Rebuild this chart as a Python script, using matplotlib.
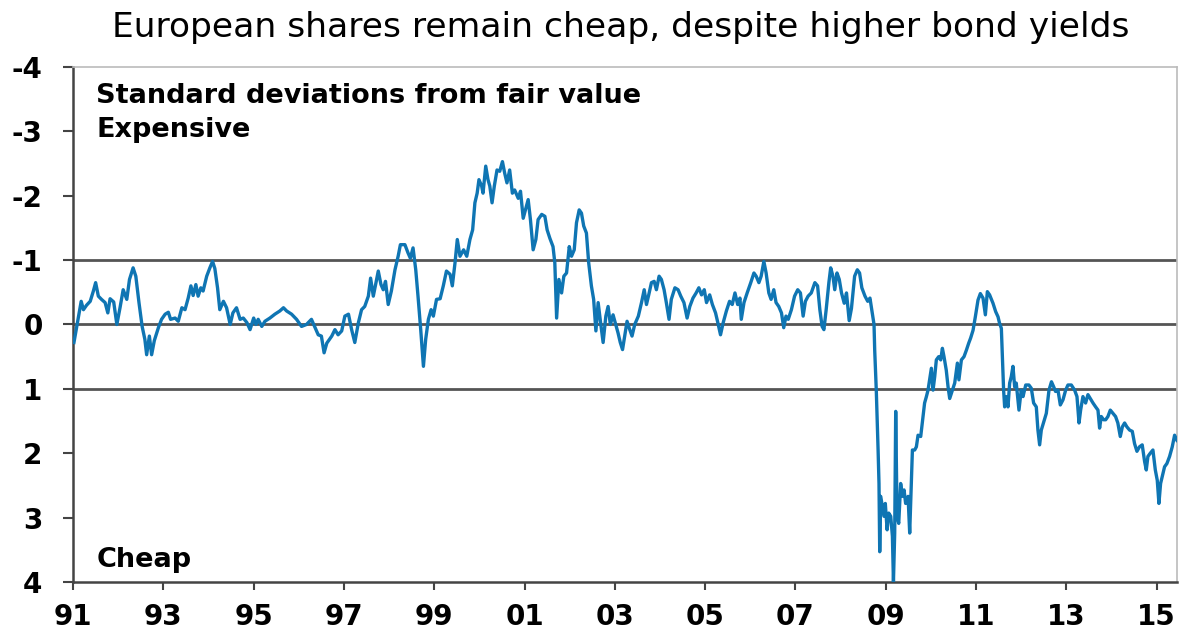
import matplotlib
matplotlib.use("Agg")
import matplotlib.pyplot as plt

plt.rcParams['font.family'] = ['DejaVu Sans']

# decimal year, standard deviations from fair value (positive = cheap)
years = [
    1991.02, 1991.07, 1991.18, 1991.23, 1991.30, 1991.38, 1991.45, 1991.50, 1991.56, 1991.63,
    1991.71, 1991.77, 1991.82, 1991.90, 1991.97, 1992.04, 1992.11, 1992.19, 1992.25, 1992.33,
    1992.39, 1992.46, 1992.53, 1992.59, 1992.63, 1992.69, 1992.74, 1992.80, 1992.89, 1992.96,
    1993.04, 1993.11, 1993.16, 1993.26, 1993.33, 1993.41, 1993.48, 1993.55, 1993.61, 1993.66,
    1993.72, 1993.77, 1993.83, 1993.88, 1993.96, 1994.03, 1994.09, 1994.14, 1994.20, 1994.25,
    1994.33, 1994.40, 1994.48, 1994.54, 1994.62, 1994.70, 1994.77, 1994.85, 1994.92, 1995.00,
    1995.05, 1995.10, 1995.18, 1995.25, 1995.36, 1995.47, 1995.58, 1995.66, 1995.73, 1995.84,
    1995.95, 1996.06, 1996.17, 1996.28, 1996.36, 1996.43, 1996.50, 1996.56, 1996.62, 1996.73,
    1996.80, 1996.87, 1996.95, 1997.02, 1997.10, 1997.17, 1997.24, 1997.32, 1997.39, 1997.46,
    1997.54, 1997.59, 1997.65, 1997.70, 1997.76, 1997.82, 1997.87, 1997.92, 1997.98, 1998.05,
    1998.13, 1998.20, 1998.25, 1998.35, 1998.42, 1998.47, 1998.53, 1998.59, 1998.64, 1998.70,
    1998.76, 1998.81, 1998.87, 1998.93, 1998.98, 1999.05, 1999.13, 1999.20, 1999.27, 1999.35,
    1999.40, 1999.46, 1999.51, 1999.57, 1999.65, 1999.72, 1999.79, 1999.85, 1999.90, 1999.95,
    1999.99, 2000.05, 2000.08, 2000.14, 2000.19, 2000.23, 2000.28, 2000.33, 2000.39, 2000.45,
    2000.51, 2000.56, 2000.61, 2000.67, 2000.73, 2000.78, 2000.86, 2000.91, 2000.97, 2001.03,
    2001.08, 2001.13, 2001.19, 2001.25, 2001.30, 2001.38, 2001.45, 2001.50, 2001.56, 2001.63,
    2001.67, 2001.71, 2001.76, 2001.82, 2001.87, 2001.93, 2001.99, 2002.04, 2002.10, 2002.15,
    2002.21, 2002.26, 2002.31, 2002.37, 2002.42, 2002.48, 2002.53, 2002.58, 2002.63, 2002.68,
    2002.74, 2002.80, 2002.85, 2002.90, 2002.96, 2003.02, 2003.07, 2003.12, 2003.17, 2003.27,
    2003.33, 2003.38, 2003.44, 2003.52, 2003.59, 2003.65, 2003.70, 2003.75, 2003.81, 2003.87,
    2003.92, 2003.98, 2004.03, 2004.09, 2004.14, 2004.20, 2004.25, 2004.33, 2004.40, 2004.46,
    2004.53, 2004.60, 2004.66, 2004.73, 2004.80, 2004.86, 2004.92, 2004.98, 2005.03, 2005.10,
    2005.16, 2005.23, 2005.28, 2005.34, 2005.40, 2005.47, 2005.54, 2005.60, 2005.66, 2005.72,
    2005.77, 2005.80, 2005.86, 2005.93, 2006.01, 2006.08, 2006.13, 2006.19, 2006.24, 2006.30,
    2006.35, 2006.41, 2006.46, 2006.52, 2006.57, 2006.63, 2006.69, 2006.74, 2006.79, 2006.84,
    2006.91, 2006.98, 2007.05, 2007.11, 2007.17, 2007.22, 2007.28, 2007.35, 2007.43, 2007.49,
    2007.54, 2007.59, 2007.63, 2007.68, 2007.74, 2007.78, 2007.83, 2007.87, 2007.92, 2007.97,
    2008.02, 2008.08, 2008.13, 2008.19, 2008.24, 2008.31, 2008.37, 2008.42, 2008.47, 2008.54,
    2008.60, 2008.65, 2008.70, 2008.74, 2008.755, 2008.79, 2008.815, 2008.83, 2008.85, 2008.866,
    2008.888, 2008.925, 2008.96, 2008.99, 2009.03, 2009.065, 2009.11, 2009.147, 2009.17, 2009.198,
    2009.22, 2009.25, 2009.287, 2009.33, 2009.368, 2009.405, 2009.44, 2009.494, 2009.53, 2009.567,
    2009.59, 2009.64, 2009.678, 2009.715, 2009.774, 2009.826, 2009.86, 2009.90, 2009.936, 2009.97,
    2010.01, 2010.047, 2010.084, 2010.12, 2010.172, 2010.217, 2010.254, 2010.29, 2010.34, 2010.38,
    2010.416, 2010.453, 2010.527, 2010.586, 2010.62, 2010.675, 2010.733, 2010.785, 2010.837, 2010.88,
    2010.933, 2010.984, 2011.043, 2011.095, 2011.154, 2011.206, 2011.25, 2011.30, 2011.375, 2011.434,
    2011.486, 2011.52, 2011.56, 2011.58, 2011.61, 2011.633, 2011.67, 2011.707, 2011.744, 2011.78,
    2011.817, 2011.855, 2011.89, 2011.95, 2012.00, 2012.04, 2012.10, 2012.17, 2012.223, 2012.275,
    2012.334, 2012.37, 2012.408, 2012.445, 2012.50, 2012.556, 2012.615, 2012.67, 2012.72, 2012.76,
    2012.814, 2012.866, 2012.925, 2012.984, 2013.035, 2013.11, 2013.183, 2013.235, 2013.28, 2013.316,
    2013.367, 2013.426, 2013.478, 2013.53, 2013.59, 2013.648, 2013.70, 2013.736, 2013.773, 2013.825,
    2013.87, 2013.92, 2013.973, 2014.03, 2014.09, 2014.14, 2014.194, 2014.24, 2014.29, 2014.34,
    2014.40, 2014.46, 2014.51, 2014.563, 2014.62, 2014.68, 2014.733, 2014.77, 2014.806, 2014.858,
    2014.917, 2014.97, 2015.013, 2015.05, 2015.087, 2015.14, 2015.175, 2015.227, 2015.286, 2015.345,
    2015.397, 2015.45,
]

std_devs = [
    0.28, 0.08, -0.36, -0.23, -0.30, -0.36, -0.52, -0.65, -0.44, -0.39,
    -0.34, -0.18, -0.40, -0.35, 0.00, -0.26, -0.54, -0.39, -0.70, -0.88,
    -0.75, -0.34, 0.03, 0.23, 0.47, 0.18, 0.47, 0.25, 0.05, -0.08,
    -0.16, -0.19, -0.08, -0.10, -0.05, -0.26, -0.23, -0.41, -0.60, -0.45,
    -0.62, -0.44, -0.57, -0.52, -0.75, -0.88, -0.98, -0.87, -0.57, -0.23,
    -0.36, -0.26, 0.00, -0.18, -0.26, -0.08, -0.10, -0.03, 0.08, -0.10,
    0.00, -0.08, 0.03, -0.05, -0.10, -0.16, -0.21, -0.26, -0.21, -0.16,
    -0.08, 0.03, 0.00, -0.08, 0.05, 0.16, 0.18, 0.44, 0.29, 0.18,
    0.08, 0.16, 0.10, -0.13, -0.16, 0.08, 0.28, -0.03, -0.23, -0.28,
    -0.44, -0.72, -0.44, -0.62, -0.83, -0.62, -0.54, -0.67, -0.31, -0.52,
    -0.85, -1.06, -1.24, -1.24, -1.11, -1.03, -1.19, -0.85, -0.44, 0.08,
    0.65, 0.23, -0.08, -0.23, -0.13, -0.39, -0.40, -0.60, -0.83, -0.78,
    -0.60, -0.96, -1.32, -1.06, -1.16, -1.06, -1.32, -1.47, -1.89, -2.04,
    -2.25, -2.15, -2.04, -2.46, -2.25, -2.15, -1.89, -2.15, -2.40, -2.38,
    -2.53, -2.35, -2.20, -2.40, -2.04, -2.09, -1.96, -2.07, -1.65, -1.81,
    -1.94, -1.63, -1.16, -1.32, -1.63, -1.71, -1.68, -1.47, -1.34, -1.21,
    -0.96, -0.10, -0.70, -0.49, -0.75, -0.80, -1.21, -1.06, -1.16, -1.58,
    -1.78, -1.73, -1.53, -1.42, -0.96, -0.60, -0.39, 0.10, -0.34, -0.05,
    0.28, -0.13, -0.28, 0.00, -0.15, 0.00, 0.13, 0.28, 0.39, -0.05,
    0.08, 0.18, 0.00, -0.13, -0.34, -0.54, -0.31, -0.46, -0.65, -0.67,
    -0.54, -0.75, -0.70, -0.54, -0.34, -0.08, -0.39, -0.57, -0.54, -0.44,
    -0.34, -0.10, -0.28, -0.41, -0.49, -0.57, -0.46, -0.54, -0.34, -0.46,
    -0.31, -0.18, -0.03, 0.16, -0.03, -0.21, -0.36, -0.31, -0.49, -0.31,
    -0.41, -0.08, -0.34, -0.49, -0.65, -0.80, -0.75, -0.65, -0.75, -0.98,
    -0.80, -0.49, -0.39, -0.54, -0.34, -0.28, -0.18, 0.05, -0.13, -0.08,
    -0.23, -0.44, -0.54, -0.49, -0.13, -0.36, -0.44, -0.49, -0.65, -0.60,
    -0.23, 0.03, 0.08, -0.23, -0.65, -0.88, -0.75, -0.54, -0.80, -0.70,
    -0.49, -0.33, -0.49, -0.06, -0.25, -0.75, -0.85, -0.80, -0.57, -0.44,
    -0.36, -0.41, -0.18, 0.00, 0.40, 1.02, 1.59, 1.95, 2.47, 3.53,
    2.67, 2.83, 2.98, 2.78, 3.19, 2.93, 2.98, 3.29, 4.00, 3.24,
    1.35, 2.98, 3.09, 2.47, 2.67, 2.57, 2.78, 2.67, 3.24, 2.47,
    1.95, 1.95, 1.90, 1.72, 1.74, 1.43, 1.22, 1.12, 1.02, 0.86,
    0.68, 1.02, 0.81, 0.55, 0.50, 0.55, 0.37, 0.50, 0.71, 0.97,
    1.15, 1.07, 0.91, 0.60, 0.86, 0.55, 0.50, 0.40, 0.29, 0.21,
    0.09, -0.12, -0.38, -0.48, -0.41, -0.15, -0.51, -0.46, -0.33, -0.20,
    -0.12, -0.02, 0.06, 0.45, 1.02, 1.28, 1.12, 1.28, 0.91, 0.81,
    0.65, 0.97, 0.91, 1.33, 1.02, 1.12, 0.94, 0.94, 0.99, 1.22,
    1.28, 1.64, 1.87, 1.64, 1.51, 1.38, 1.02, 0.89, 0.97, 1.04,
    1.02, 1.25, 1.17, 1.02, 0.94, 0.94, 1.02, 1.12, 1.53, 1.33,
    1.12, 1.22, 1.09, 1.15, 1.22, 1.28, 1.33, 1.61, 1.43, 1.48,
    1.48, 1.43, 1.33, 1.38, 1.43, 1.53, 1.74, 1.59, 1.53, 1.59,
    1.64, 1.66, 1.85, 1.97, 1.90, 1.87, 2.13, 2.26, 2.05, 2.00,
    1.95, 2.26, 2.42, 2.78, 2.47, 2.31, 2.21, 2.16, 2.05, 1.90,
    1.72, 1.80,
]

x_tick_years = [1991, 1993, 1995, 1997, 1999, 2001, 2003, 2005, 2007, 2009, 2011, 2013, 2015]
x_tick_labels = ["91", "93", "95", "97", "99", "01", "03", "05", "07", "09", "11", "13", "15"]
y_ticks = [-4, -3, -2, -1, 0, 1, 2, 3, 4]
ref_lines = [-1, 0, 1]

title = "European shares remain cheap, despite higher bond yields"
label_top = "Standard deviations from fair value"
label_expensive = "Expensive"
label_cheap = "Cheap"

fig = plt.figure(figsize=(11.86, 6.35), dpi=100)
ax = fig.add_axes([0.0616, 0.0835, 0.9308, 0.811])

for v in ref_lines:
    ax.axhline(v, color="#555555", lw=2.0, zorder=1)

ax.plot(years, std_devs, color="#0f75b3", lw=2.4, zorder=3)

ax.set_xlim(1991, 2015.45)
ax.set_ylim(4, -4)
ax.set_yticks(y_ticks)
ax.set_yticklabels([str(v) for v in y_ticks])
ax.set_xticks(x_tick_years)
ax.set_xticklabels(x_tick_labels)

ax.tick_params(axis="y", direction="out", length=7, width=1.5, color="#444444",
               labelsize=20, pad=15)
ax.tick_params(axis="x", direction="out", length=6, width=1.5, color="#444444",
               labelsize=20, pad=9)
for lab in ax.get_xticklabels() + ax.get_yticklabels():
    lab.set_fontweight("bold")

for side in ["left", "bottom"]:
    ax.spines[side].set_color("#444444")
    ax.spines[side].set_linewidth(1.8)
for side in ["top", "right"]:
    ax.spines[side].set_color("#bbbbbb")
    ax.spines[side].set_linewidth(1.2)

ax.text(0.021, 0.930, label_top, transform=ax.transAxes, fontsize=19.5,
        fontweight="bold", va="baseline", ha="left")
ax.text(0.021, 0.864, label_expensive, transform=ax.transAxes, fontsize=19.5,
        fontweight="bold", va="baseline", ha="left")
ax.text(0.021, 0.029, label_cheap, transform=ax.transAxes, fontsize=19.5,
        fontweight="bold", va="baseline", ha="left")

fig.text(0.5236, 0.9417, title, ha="center", va="baseline", fontsize=24.8)

fig.savefig("out.png", dpi=100)
